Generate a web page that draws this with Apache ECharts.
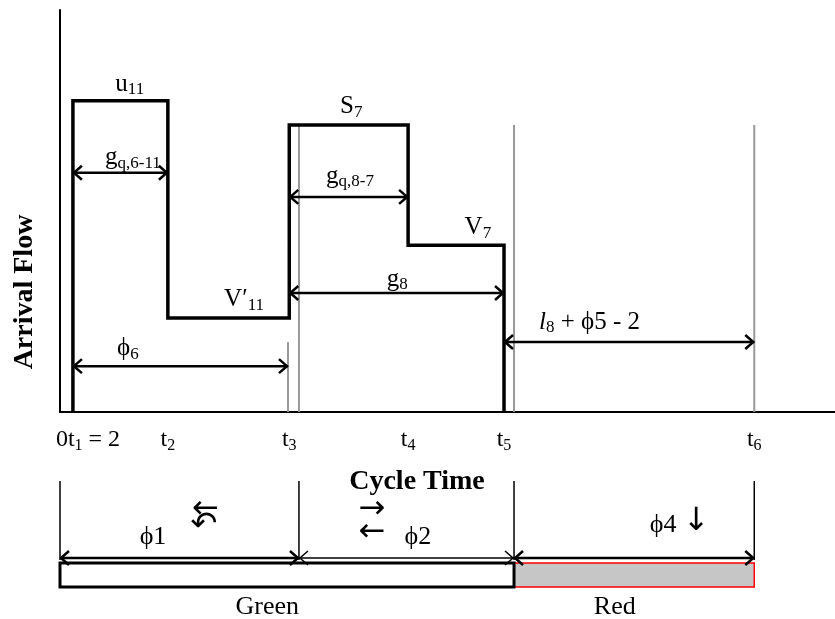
<!DOCTYPE html>
<html>
<head>
<meta charset="utf-8">
<script src="https://cdn.jsdelivr.net/npm/echarts@6/dist/echarts.min.js"></script>
<style>
  html, body { margin: 0; padding: 0; background: #fff; }
  #main { width: 835px; height: 619px; }
</style>
</head>
<body>
<div id="main"></div>
<script>
const FONT = "'Liberation Serif', 'Times New Roman', serif";

// cycle time tick marks (origin label also carries t1 = 2)
const tickValues = [0, 16.7, 35.5, 53.9, 68.75, 107.5];
const tickLabels = ['{gap| }{m|0t}{s|1}{m| = 2}', '{m|t}{s|2}', '{m|t}{s|3}', '{m|t}{s|4}', '{m|t}{s|5}', '{m|t}{s|6}'];

// arrival flow profile (stepped)
const flowTimes = [2, 2, 16.7, 16.7, 35.5, 35.5, 53.9, 53.9, 68.75, 68.75];
const flowLevels = [0, 77.4, 77.4, 23.4, 23.4, 71.4, 71.4, 41.5, 41.5, 0];

// grey reference lines
const refTimes = [35.3, 37.0, 70.3, 107.5];
const refTops = [17.4, 71.4, 71.4, 71.4];

// dimension arrows
const dimFrom = [2, 2, 35.5, 35.5, 68.75];
const dimTo = [16.7, 35.3, 53.9, 68.75, 107.5];
const dimLevel = [59.5, 11.4, 53.5, 29.6, 17.4];

// annotations
const annText = ['{m|u}{s|11}', '{m|g}{s|q,6-11}', "{m|V′}{s|11}", '{m|ϕ}{s|6}', '{m|S}{s|7}', '{m|g}{s|q,8-7}', '{m|V}{s|7}', '{m|g}{s|8}', '{i|l}{s|8}{m| + ϕ5 - 2}'];
const annTimes = [10.8, 11.3, 28.5, 10.5, 45.1, 44.9, 64.7, 52.2, 82];
const annLevels = [81.6, 63.2, 27.9, 15.9, 75.9, 58.7, 45.8, 33.1, 22.4];

// phases (bottom ring diagram)
const phaseNames = ['ϕ1', 'ϕ2', 'ϕ4'];
const phaseFrom = [0, 37.0, 70.3];
const phaseTo = [37.0, 70.3, 107.5];
const phaseBounds = [0, 37.0, 70.3, 107.5];
const signalNames = ['Green', 'Red'];
const signalFrom = [0, 70.3];
const signalTo = [70.3, 107.5];

// phase labels + movement icons
const bottomText = ['ϕ1', 'ϕ2', 'ϕ4', 'Green', 'Red', '←', '↶', '→', '←', '↓'];
const bottomTimes = [14.4, 55.4, 93.4, 32.1, 85.9, 22.5, 22.3, 48.3, 48.3, 98.5];
const bottomLevels = [82, 82, 94, 12, 12, 109, 93, 109, 86, 97];

const rich = {
  m: { fontFamily: FONT, fontSize: 25, color: '#000' },
  i: { fontFamily: FONT, fontSize: 25, fontStyle: 'italic', color: '#000' },
  s: { fontFamily: FONT, fontSize: 17, color: '#000', padding: [12, 0, 0, 0] }
};
const tickRich = {
  m: { fontFamily: FONT, fontSize: 24, color: '#000' },
  s: { fontFamily: FONT, fontSize: 16, color: '#000', padding: [12, 0, 0, 0] },
  gap: { width: 56 }
};

const chartDom = document.getElementById('main');
const myChart = echarts.init(chartDom);

function refItem(params, api) {
  const p0 = api.coord([api.value(0), 0]);
  const p1 = api.coord([api.value(0), api.value(1)]);
  return {
    type: 'line',
    shape: { x1: p0[0], y1: p0[1], x2: p1[0], y2: p1[1] },
    style: { stroke: '#999', lineWidth: 2 }
  };
}

function arrowItem(params, api) {
  const a = api.coord([api.value(0), api.value(2)]);
  const b = api.coord([api.value(1), api.value(2)]);
  const w = api.value(3) || 2.5;
  const h = 9, v = 7;
  const st = { stroke: '#000', lineWidth: w, fill: null };
  return {
    type: 'group',
    children: [
      { type: 'line', shape: { x1: a[0], y1: a[1], x2: b[0], y2: b[1] }, style: st },
      { type: 'polyline', shape: { points: [[a[0] + h, a[1] - v], [a[0] + 1, a[1]], [a[0] + h, a[1] + v]] }, style: st },
      { type: 'polyline', shape: { points: [[b[0] - h, b[1] - v], [b[0] - 1, b[1]], [b[0] - h, b[1] + v]] }, style: st }
    ]
  };
}

function textItem(texts, useRich, size) {
  return function (params, api) {
    const p = api.coord([api.value(0), api.value(1)]);
    const t = texts[params.dataIndex];
    const style = { text: t, align: 'center', verticalAlign: 'middle', fill: '#000' };
    if (useRich) {
      style.rich = rich;
    } else {
      const isIcon = /[←→↓↶]/.test(t);
      style.font = isIcon ? "32px 'DejaVu Sans'" : size + 'px ' + FONT;
    }
    return { type: 'text', x: p[0], y: p[1], style: style };
  };
}

let option = {
  animation: false,
  backgroundColor: '#fff',
  grid: [
    { left: 60, right: 0, top: 10, bottom: 207 },
    { left: 60, right: 0, top: 470, bottom: 0 }
  ],
  xAxis: [
    {
      gridIndex: 0, type: 'value', min: 0, max: 120,
      axisLine: { show: true, lineStyle: { color: '#000', width: 2 } },
      axisTick: { show: false },
      splitLine: { show: false },
      axisLabel: {
        customValues: tickValues,
        showMinLabel: true,
        margin: 14,
        formatter: function (val) {
          let k = 0;
          tickValues.forEach((v, i) => { if (Math.abs(v - val) < Math.abs(tickValues[k] - val)) k = i; });
          return tickLabels[k];
        },
        rich: tickRich
      }
    },
    { gridIndex: 1, type: 'value', min: 0, max: 120, show: false }
  ],
  yAxis: [
    {
      gridIndex: 0, type: 'value', min: 0, max: 100,
      axisLine: { show: true, lineStyle: { color: '#000', width: 2 } },
      axisTick: { show: false },
      axisLabel: { show: false },
      splitLine: { show: false }
    },
    { gridIndex: 1, type: 'value', min: 0, max: 149, show: false }
  ],
  graphic: [
    { type: 'text', x: 25, y: 292, rotation: Math.PI / 2, style: { text: 'Arrival Flow', font: "bold 28px " + FONT, fill: '#000', align: 'center', verticalAlign: 'middle' } },
    { type: 'text', x: 417, y: 482, style: { text: 'Cycle Time', font: "bold 28px " + FONT, fill: '#000', align: 'center', verticalAlign: 'middle' } }
  ],
  series: [
    {
      name: 'refs', type: 'custom', xAxisIndex: 0, yAxisIndex: 0,
      data: refTimes.map((t, i) => [t, refTops[i]]),
      renderItem: refItem, z: 1
    },
    {
      name: 'flow', type: 'line', xAxisIndex: 0, yAxisIndex: 0,
      data: flowTimes.map((t, i) => [t, flowLevels[i]]),
      symbol: 'none',
      lineStyle: { color: '#000', width: 3.5, join: 'miter' },
      z: 3
    },
    {
      name: 'dims', type: 'custom', xAxisIndex: 0, yAxisIndex: 0,
      data: dimFrom.map((t, i) => [t, dimTo[i], dimLevel[i]]),
      renderItem: arrowItem, z: 4
    },
    {
      name: 'labels', type: 'custom', xAxisIndex: 0, yAxisIndex: 0,
      data: annTimes.map((t, i) => [t, annLevels[i]]),
      renderItem: textItem(annText, true), z: 5
    },
    {
      name: 'bounds', type: 'custom', xAxisIndex: 1, yAxisIndex: 1,
      data: phaseBounds.map(t => [t]),
      renderItem: function (params, api) {
        const p0 = api.coord([api.value(0), 59]);
        const p1 = api.coord([api.value(0), 138]);
        return { type: 'line', shape: { x1: p0[0], y1: p0[1], x2: p1[0], y2: p1[1] }, style: { stroke: '#000', lineWidth: 1.5 } };
      }
    },
    {
      name: 'signals', type: 'custom', xAxisIndex: 1, yAxisIndex: 1,
      data: signalFrom.map((t, i) => [t, signalTo[i]]),
      renderItem: function (params, api) {
        const a = api.coord([api.value(0), 56]);
        const b = api.coord([api.value(1), 32]);
        const green = params.dataIndex === 0;
        return {
          type: 'rect',
          shape: { x: a[0], y: a[1], width: b[0] - a[0], height: b[1] - a[1] },
          style: green ? { fill: '#fff', stroke: '#000', lineWidth: 3 } : { fill: '#c6c6c6', stroke: '#ff0000', lineWidth: 1.5 },
          z2: green ? 2 : 1
        };
      }
    },
    {
      name: 'phases', type: 'custom', xAxisIndex: 1, yAxisIndex: 1,
      data: phaseFrom.map((t, i) => [t, phaseTo[i], 61, i === 1 ? 1.5 : 2.5]),
      renderItem: arrowItem, z: 4
    },
    {
      name: 'phaseText', type: 'custom', xAxisIndex: 1, yAxisIndex: 1,
      data: bottomTimes.map((t, i) => [t, bottomLevels[i]]),
      renderItem: textItem(bottomText, false, 26), z: 5
    }
  ]
};

option && myChart.setOption(option);
</script>
</body>
</html>
